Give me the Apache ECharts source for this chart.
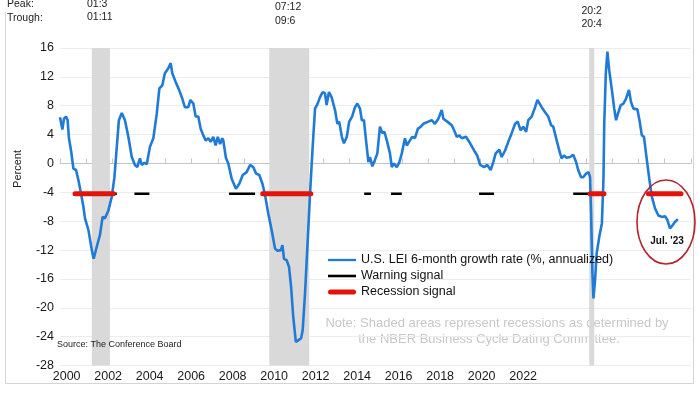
<!DOCTYPE html>
<html>
<head>
<meta charset="utf-8">
<script src="https://cdn.jsdelivr.net/npm/echarts@6/dist/echarts.min.js"></script>
<style>html,body{margin:0;padding:0;background:#fff}#c{width:700px;height:394px}</style>
</head>
<body>
<div id="c"></div>
<script>
// ---- data ----
const leiSeries = [
[2000.00,6.4],[2000.09,4.7],[2000.15,6.2],[2000.23,6.5],[2000.29,6.0],[2000.34,3.5],[2000.42,1.8],[2000.51,-0.7],[2000.61,-0.9],[2000.70,-2.3],[2000.80,-4.2],[2000.89,-6.0],[2000.95,-7.6],
[2001.08,-9.2],[2001.21,-12.0],[2001.28,-13.2],[2001.40,-11.5],[2001.52,-9.9],[2001.62,-7.4],[2001.71,-7.6],[2001.84,-6.5],[2001.97,-4.6],
[2002.07,-1.9],[2002.16,2.3],[2002.24,6.0],[2002.35,7.0],[2002.47,6.0],[2002.60,3.7],[2002.73,0.9],[2002.85,-0.2],[2002.94,-0.5],
[2003.04,0.7],[2003.11,-0.2],[2003.21,0.1],[2003.30,-0.1],[2003.42,2.3],[2003.55,3.5],[2003.68,6.9],[2003.78,10.4],[2003.89,10.8],[2003.99,12.5],
[2004.12,13.2],[2004.21,13.9],[2004.27,12.5],[2004.40,11.3],[2004.53,10.2],[2004.65,9.0],[2004.75,7.8],[2004.88,7.8],[2004.96,8.8],
[2005.07,8.3],[2005.16,6.5],[2005.26,6.5],[2005.35,4.8],[2005.45,3.9],[2005.54,3.2],[2005.64,3.5],[2005.73,3.0],[2005.83,3.7],[2005.92,2.5],
[2006.00,3.7],[2006.09,2.7],[2006.17,3.5],[2006.21,3.2],[2006.31,0.8],[2006.40,0.0],[2006.53,-2.1],[2006.69,-3.5],[2006.82,-2.8],[2006.95,-1.6],
[2007.10,-1.2],[2007.23,-0.2],[2007.35,-0.5],[2007.46,-1.4],[2007.58,-1.6],[2007.70,-2.8],[2007.80,-4.4],[2007.92,-6.9],
[2008.05,-9.2],[2008.18,-11.8],[2008.27,-12.1],[2008.40,-12.0],[2008.46,-11.3],[2008.52,-13.2],[2008.62,-13.4],[2008.71,-14.3],[2008.79,-17.1],[2008.87,-21.2],[2008.97,-24.7],
[2009.06,-24.5],[2009.17,-24.2],[2009.23,-23.1],[2009.32,-18.0],[2009.41,-11.5],[2009.51,-4.2],[2009.61,2.3],[2009.70,7.6],[2009.80,8.3],[2009.89,9.2],[2009.99,9.9],
[2010.08,9.7],[2010.14,8.1],[2010.23,9.9],[2010.33,9.2],[2010.46,7.4],[2010.55,5.5],[2010.62,5.8],[2010.72,3.7],[2010.80,2.8],[2010.91,3.7],
[2011.00,5.8],[2011.11,6.5],[2011.22,7.8],[2011.31,8.3],[2011.41,7.6],[2011.48,6.0],[2011.56,6.0],[2011.64,3.2],[2011.73,0.2],[2011.79,0.9],[2011.88,-0.4],[2011.98,0.5],
[2012.07,1.4],[2012.17,5.1],[2012.26,4.2],[2012.34,4.4],[2012.43,3.2],[2012.55,1.4],[2012.62,-0.5],[2012.70,0.0],[2012.81,-0.5],[2012.91,0.2],
[2013.00,1.4],[2013.12,3.5],[2013.19,2.5],[2013.31,3.2],[2013.40,3.7],[2013.50,3.5],[2013.61,4.8],[2013.72,5.1],[2013.82,5.5],
[2014.01,5.8],[2014.14,6.0],[2014.26,5.5],[2014.39,6.2],[2014.52,7.4],[2014.58,6.2],[2014.73,5.8],[2014.90,5.3],[2014.99,4.6],
[2015.09,3.7],[2015.19,3.9],[2015.28,3.5],[2015.44,3.7],[2015.60,2.8],[2015.75,1.8],[2015.87,1.1],[2015.98,-0.2],
[2016.13,-0.5],[2016.25,-0.2],[2016.38,-0.9],[2016.48,0.2],[2016.57,1.4],[2016.71,1.9],[2016.80,0.9],[2016.93,1.8],
[2017.05,3.0],[2017.18,4.2],[2017.31,5.5],[2017.41,5.8],[2017.52,4.6],[2017.62,5.1],[2017.73,4.4],[2017.81,6.0],[2017.94,6.5],
[2018.07,7.8],[2018.16,8.8],[2018.23,9.0],[2018.32,7.8],[2018.45,7.1],[2018.57,6.5],[2018.68,5.3],[2018.76,5.1],[2018.89,3.2],
[2019.02,1.4],[2019.08,0.7],[2019.17,1.1],[2019.27,0.8],[2019.40,0.9],[2019.52,1.2],[2019.63,0.2],[2019.71,-0.9],[2019.82,-1.9],[2019.90,-1.9],
[2020.01,-1.4],[2020.10,-1.2],[2020.16,-1.9],[2020.20,-6.9],[2020.25,-15.2],[2020.29,-18.7],[2020.35,-16.2],[2020.41,-12.5],[2020.51,-10.2],[2020.61,-8.3],[2020.67,-2.3],[2020.70,5.5],[2020.76,12.5],[2020.82,15.5],[2020.89,12.9],[2020.99,10.2],
[2021.08,7.6],[2021.15,6.0],[2021.24,7.1],[2021.33,8.1],[2021.43,8.3],[2021.53,9.0],[2021.64,10.2],[2021.72,8.5],[2021.81,7.6],[2021.96,7.5],
[2022.04,6.0],[2022.13,3.9],[2022.21,3.7],[2022.32,0.5],[2022.42,-2.3],[2022.51,-4.6],[2022.63,-6.2],[2022.76,-7.2],[2022.89,-7.4],
[2023.01,-7.3],[2023.10,-7.8],[2023.20,-9.0],[2023.31,-8.5],[2023.39,-8.1],[2023.45,-7.9],[2023.50,-7.7]
];
const signalLevel = -4.2;
const warningPeriods = [[2000.51,2002.16],[2002.83,2003.40],[2006.43,2007.42],[2011.57,2011.83],[2012.59,2013.00],[2015.94,2016.51],[2019.52,2020.18]];
const recessionSignalPeriods = [[2000.57,2002.03],[2007.71,2009.54],[2020.16,2020.69],[2022.38,2023.62]];
const nberRecessions = [[2001.21,2001.90],[2007.96,2009.48],[2020.13,2020.32]];
const yearLabels = [2000,2002,2004,2006,2008,2010,2012,2014,2016,2018,2020,2022];
const peaks = ['01:3','07:12','20:2'];
const troughs = ['01:11','09:6','20:4'];
const seriesNames = ['U.S. LEI 6-month growth rate (%, annualized)','Warning signal','Recession signal'];

function segments(periods, level){
  const out = [];
  periods.forEach(p => { out.push([p[0], level]); out.push([p[1], level]); out.push([p[1], '-']); });
  return out;
}

const chart = echarts.init(document.getElementById('c'), null, {renderer:'canvas'});
const axisFont = "'Liberation Sans',Arial,sans-serif";
const txtFont = "'Liberation Sans',Arial,sans-serif";
const gridColors = [];
for (let v=-28; v<=16; v+=4) gridColors.push(v===0 ? '#c4c4c4' : '#ececec');

chart.setOption({
  animation:false,
  backgroundColor:'#ffffff',
  grid:{left:60, right:9, top:48, bottom:28.4, containLabel:false},
  xAxis:[
    {type:'value', min:2000, max:2024, interval:1,
     axisLine:{show:false}, splitLine:{show:false},
     axisTick:{show:true, inside:true, length:5, lineStyle:{color:'#c8c8c8'}},
     axisLabel:{show:false}},
    {type:'value', min:1999.68, max:2030.09, position:'bottom',
     axisLine:{show:false}, splitLine:{show:false}, axisTick:{show:false},
     axisLabel:{show:true, customValues:yearLabels, margin:4.5, fontSize:12.5, fontFamily:axisFont, color:'#1a1a1a',
       formatter:v=>String(Math.round(v))}}
  ],
  yAxis:{type:'value', min:-28, max:16, interval:4,
    axisLine:{show:false}, axisTick:{show:false},
    splitLine:{show:true, lineStyle:{color:gridColors, width:1}},
    axisLabel:{margin:6, fontSize:12.5, fontFamily:axisFont, color:'#1a1a1a'}},
  legend:{orient:'vertical', left:328, top:253.5, padding:0, itemWidth:28, itemHeight:10, itemGap:3,
    symbolKeepAspect:true,
    data:[
      {name:seriesNames[0], icon:'path://M0,0H28V2.3H0Z'},
      {name:seriesNames[1], icon:'path://M0,0H28V2.6H0Z'},
      {name:seriesNames[2], icon:'path://M2.5,0H25.5A2.5,2.5,0,0,1,25.5,5H2.5A2.5,2.5,0,0,1,2.5,0Z'}
    ],
    textStyle:{fontSize:12.5, fontFamily:txtFont, color:'#111', padding:[0,0,0,0]}},
  series:[
    {name:seriesNames[0], type:'line', xAxisIndex:0, data:leiSeries, symbol:'none', z:3,
     lineStyle:{width:2.6, color:'#1f7ad8'}, itemStyle:{color:'#1f7ad8'},
     markArea:{silent:true, itemStyle:{color:'#d9d9d9'},
       data: nberRecessions.map(r=>[{xAxis:r[0]},{xAxis:r[1]}])}},
    {name:seriesNames[1], type:'line', xAxisIndex:0, data:segments(warningPeriods, signalLevel), symbol:'none', z:4,
     connectNulls:false, lineStyle:{width:2.6, color:'#000'}, itemStyle:{color:'#000'}},
    {name:seriesNames[2], type:'line', xAxisIndex:0, data:segments(recessionSignalPeriods, signalLevel), symbol:'none', z:5,
     connectNulls:false, lineStyle:{width:5, color:'#e3120b', cap:'round'}, itemStyle:{color:'#e3120b'}}
  ],
  graphic:[
    {type:'polyline', silent:true, shape:{points:[[5.5,12],[5.5,383.5],[693.5,383.5],[693.5,0]]}, style:{fill:'none', stroke:'#d4d4d4', lineWidth:1}},
    {type:'text', x:7, y:4, style:{text:'Peak:', fontSize:10.5, fontFamily:txtFont, fill:'#222', verticalAlign:'middle'}},
    {type:'text', x:7, y:18, style:{text:'Trough:', fontSize:10.5, fontFamily:txtFont, fill:'#222', verticalAlign:'middle'}},
    {type:'text', x:87, y:4, style:{text:peaks[0], fontSize:10.5, fontFamily:txtFont, fill:'#222', verticalAlign:'middle'}},
    {type:'text', x:87, y:17.5, style:{text:troughs[0], fontSize:10.5, fontFamily:txtFont, fill:'#222', verticalAlign:'middle'}},
    {type:'text', x:275, y:7.5, style:{text:peaks[1], fontSize:10.5, fontFamily:txtFont, fill:'#222', verticalAlign:'middle'}},
    {type:'text', x:275, y:21, style:{text:troughs[1], fontSize:10.5, fontFamily:txtFont, fill:'#222', verticalAlign:'middle'}},
    {type:'text', x:581.5, y:11, style:{text:peaks[2], fontSize:10.5, fontFamily:txtFont, fill:'#222', verticalAlign:'middle'}},
    {type:'text', x:581.5, y:24.5, style:{text:troughs[2], fontSize:10.5, fontFamily:txtFont, fill:'#222', verticalAlign:'middle'}},
    {type:'text', x:18, y:169, rotation:Math.PI/2, style:{text:'Percent', fontSize:11, fontFamily:txtFont, fill:'#222', align:'center', verticalAlign:'middle'}},
    {type:'text', x:57, y:345, z:20, style:{text:'Source: The Conference Board', fontSize:9, fontFamily:txtFont, fill:'#222', verticalAlign:'middle'}},
    {type:'text', x:497, y:323, style:{text:'Note: Shaded areas represent recessions as determined by', fontSize:13, fontFamily:txtFont, fill:'#c8c8c8', align:'center', verticalAlign:'middle'}},
    {type:'text', x:489, y:339, style:{text:'the NBER Business Cycle Dating Committee.', fontSize:13, fontFamily:txtFont, fill:'#c8c8c8', align:'center', verticalAlign:'middle'}},
    {type:'ellipse', silent:true, shape:{cx:666, cy:222, rx:29, ry:42}, style:{fill:'none', stroke:'#b5232c', lineWidth:1.6}, z:10},
    {type:'text', x:667, y:241, z:10, style:{text:"Jul. '23", fontSize:10, fontWeight:'bold', fontFamily:txtFont, fill:'#111', align:'center', verticalAlign:'middle'}}
  ]
});
</script>
</body>
</html>
